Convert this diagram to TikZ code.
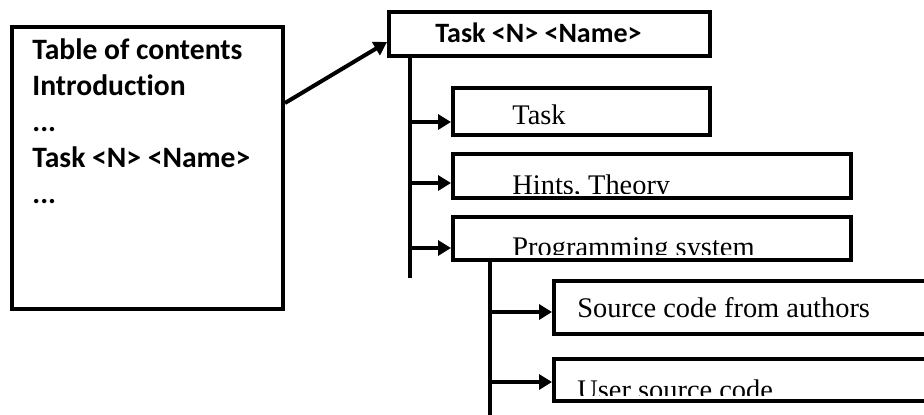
\documentclass[tikz,border=0pt]{standalone}
\usepackage{fontspec}
\setmainfont{Liberation Serif}
\newfontfamily\calibri[Ligatures=NoCommon]{Carlito}
\usetikzlibrary{arrows.meta,positioning}

\begin{document}
\begin{tikzpicture}[x=0.5pt,y=-0.5pt,
box/.style ={draw, line width=2pt, inner sep=0pt, rectangle},
title/.style ={inner sep=0pt, anchor=base west, font=\calibri\bfseries\fontsize{14}{18}\selectfont},
item/.style ={inner sep=0pt, anchor=base west, font=\fontsize{14.2}{17}\selectfont},
line/.style ={line width=2pt},
arrow/.style ={line width=2pt, -{Triangle[length=6.5pt,width=7.5pt]}}]

\clip (0,0) rectangle (924,414);

\node[box, minimum width=135.5pt, minimum height=141pt] (toc) at (147.5,168) {};
\node[inner sep=0pt, anchor=north west, align=left,
  font=\calibri\bfseries\fontsize{14.8}{18}\selectfont] (tocText) at (32,38)
  {Table of contents\\Introduction\\...\\Task <N> <Name>\\...};

\node[box, minimum width=160.5pt, minimum height=22pt] (task) at (549.5,34) {};
\node[title] (taskTitle) at (435,42) {Task <N> <Name>};

\node[box, minimum width=128.5pt, minimum height=23.5pt] (taskBox) at (581.5,111.5) {};
\node[box, minimum width=199pt, minimum height=22pt] (hints) at (652,176) {};
\node[box, minimum width=199pt, minimum height=21.5pt] (prog) at (652,238.5) {};
\node[box, minimum width=222pt, minimum height=26.5pt] (authors) at (776,307.5) {};
\node[box, minimum width=222pt, minimum height=21pt] (user) at (776,380) {};

\node[item] (taskText) at (512,124) {Task};
\node[item] (authorsText) at (577,317) {Source code from authors};

% text that runs past the bottom edge of its box is cut off
\begin{scope}
\clip (hints.north west) rectangle (hints.east |- 0,193);
\node[item] (hintsText) at (512,194.5) {Hints, Theory};
\end{scope}
\begin{scope}
\clip (prog.north west) rectangle (prog.east |- 0,254);
\node[item] (progText) at (512,256) {Programming system};
\end{scope}
\begin{scope}
\clip (user.north west) rectangle (user.east |- 0,395);
\node[item] (userText) at (577,399) {User source code};
\end{scope}

\draw[arrow] ([yshift=32.5pt]toc.east) -- ([yshift=-4pt]task.west);

\coordinate (trunk) at (410,278);
\coordinate (b1) at (410,122);
\coordinate (b2) at (410,183);
\coordinate (b3) at (410,248);
\draw[line] (task.south -| trunk) -- (trunk);
\draw[arrow] (b1) -- (b1 -| taskBox.west);
\draw[arrow] (b2) -- (b2 -| hints.west);
\draw[arrow] (b3) -- (b3 -| prog.west);

\coordinate (subtrunk) at (490,420);
\coordinate (c1) at (490,312);
\coordinate (c2) at (490,382);
\draw[line] (prog.south -| subtrunk) -- (subtrunk);
\draw[arrow] (c1) -- (c1 -| authors.west);
\draw[arrow] (c2) -- (c2 -| user.west);

\end{tikzpicture}
\end{document}
